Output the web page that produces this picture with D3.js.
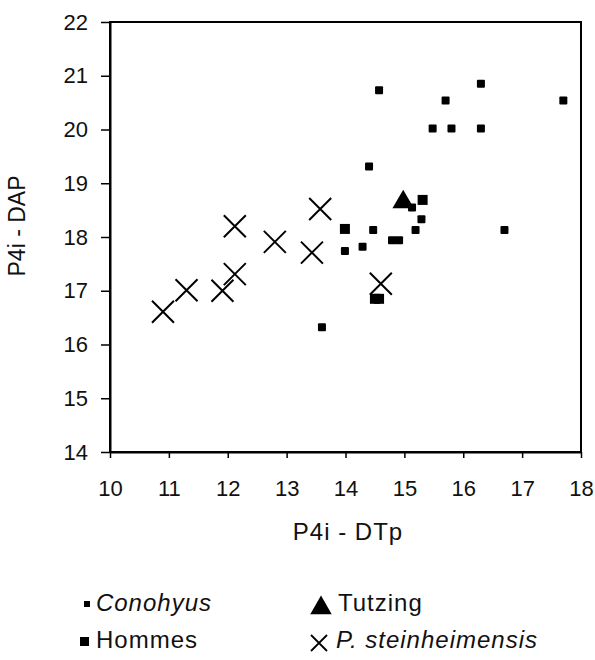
<!DOCTYPE html>
<html>
<head>
<meta charset="utf-8">
<script src="https://cdn.jsdelivr.net/npm/d3@7"></script>
<style>
  body { margin: 0; background: #fff; }
  text { font-family: "Liberation Sans", Arial, sans-serif; fill: #111; }
</style>
</head>
<body>
<div id="container"></div>
<script>
// P4i - DTp (x) against P4i - DAP (y), one array per group
const conohyusX = [14.57, 16.30, 15.70, 17.70, 15.48, 15.80, 16.30, 14.40, 15.13, 15.29, 14.47, 15.19, 16.70, 14.79, 14.91, 13.99, 14.29, 13.60];
const conohyusY = [20.73, 20.85, 20.54, 20.54, 20.02, 20.02, 20.02, 19.31, 18.55, 18.33, 18.13, 18.13, 18.13, 17.94, 17.94, 17.74, 17.82, 16.32];
const hommesX = [13.99, 15.31, 14.50, 14.57];
const hommesY = [18.15, 18.69, 16.85, 16.85];
const tutzingX = [14.98];
const tutzingY = [18.65];
const steinX = [10.90, 11.30, 11.91, 12.12, 12.12, 12.80, 13.43, 13.57, 14.60];
const steinY = [16.61, 17.01, 17.00, 17.31, 18.20, 17.91, 17.71, 18.52, 17.13];

const xTicks = [10, 11, 12, 13, 14, 15, 16, 17, 18];
const yTicks = [14, 15, 16, 17, 18, 19, 20, 21, 22];

const width = 595;
const height = 660;
const plotLeft = 110, plotRight = 581, plotTop = 22, plotBottom = 452;

const xScale = d3.scaleLinear().domain([10, 18]).range([plotLeft, plotRight]);
const yScale = d3.scaleLinear().domain([14, 22]).range([plotBottom, plotTop]);

const svg = d3.select("#container")
    .append("svg")
    .attr("width", width)
    .attr("height", height);

// frame round the plot
svg.append("rect")
    .attr("x", plotLeft)
    .attr("y", plotTop)
    .attr("width", plotRight - plotLeft)
    .attr("height", plotBottom - plotTop)
    .attr("fill", "none")
    .attr("stroke", "#000")
    .attr("stroke-width", 2);

// bottom axis
const xAxis = svg.append("g")
    .attr("transform", `translate(0,${plotBottom})`)
    .call(d3.axisBottom(xScale).tickValues(xTicks).tickSize(6).tickPadding(22).tickSizeOuter(0));
xAxis.select(".domain").attr("stroke-width", 2);
xAxis.selectAll(".tick line").attr("stroke-width", 1.5);
xAxis.selectAll("text").style("font-size", "22px").attr("fill", "#111");

// left axis
const yAxis = svg.append("g")
    .attr("transform", `translate(${plotLeft},0)`)
    .call(d3.axisLeft(yScale).tickValues(yTicks).tickSize(9).tickPadding(13).tickSizeOuter(0));
yAxis.select(".domain").attr("stroke-width", 2);
yAxis.selectAll(".tick line").attr("stroke-width", 1.5);
yAxis.selectAll("text").style("font-size", "22px").attr("fill", "#111");

// axis titles
svg.append("text")
    .attr("x", 348)
    .attr("y", 540)
    .attr("text-anchor", "middle")
    .style("font-size", "24px")
    .style("letter-spacing", "1px")
    .text("P4i - DTp");

svg.append("text")
    .attr("transform", "translate(25,226) rotate(-90)")
    .attr("text-anchor", "middle")
    .style("font-size", "23px")
    .text("P4i - DAP");

// Conohyus: small squares
svg.append("g").selectAll("rect")
    .data(d3.zip(conohyusX, conohyusY))
    .join("rect")
    .attr("x", d => xScale(d[0]) - 4)
    .attr("y", d => yScale(d[1]) - 4)
    .attr("width", 8)
    .attr("height", 8)
    .attr("rx", 1)
    .attr("fill", "#000");

// Hommes: larger squares
svg.append("g").selectAll("rect")
    .data(d3.zip(hommesX, hommesY))
    .join("rect")
    .attr("x", d => xScale(d[0]) - 5)
    .attr("y", d => yScale(d[1]) - 5)
    .attr("width", 10)
    .attr("height", 10)
    .attr("fill", "#000");

// Tutzing: triangle
svg.append("g").selectAll("path")
    .data(d3.zip(tutzingX, tutzingY))
    .join("path")
    .attr("transform", d => `translate(${xScale(d[0])},${yScale(d[1])})`)
    .attr("d", d3.symbol().type(d3.symbolTriangle).size(200))
    .attr("fill", "#000");

// P. steinheimensis: crosses
const cross = 11;
svg.append("g").selectAll("path")
    .data(d3.zip(steinX, steinY))
    .join("path")
    .attr("d", d => {
        const cx = xScale(d[0]), cy = yScale(d[1]);
        return `M${cx - cross},${cy - cross}L${cx + cross},${cy + cross}M${cx - cross},${cy + cross}L${cx + cross},${cy - cross}`;
    })
    .attr("stroke", "#000")
    .attr("stroke-width", 2)
    .attr("fill", "none");

// legend, two columns
const legend = svg.append("g");
legend.append("rect").attr("x", 84).attr("y", 601).attr("width", 6).attr("height", 6).attr("fill", "#000");
legend.append("text").attr("x", 212).attr("y", 611).attr("text-anchor", "end")
    .style("font-size", "24px").style("font-style", "italic").style("letter-spacing", "1px").text("Conohyus");
legend.append("rect").attr("x", 80).attr("y", 637).attr("width", 9).attr("height", 9).attr("fill", "#000");
legend.append("text").attr("x", 198).attr("y", 648).attr("text-anchor", "end")
    .style("font-size", "24px").style("letter-spacing", "1px").text("Hommes");

legend.append("path")
    .attr("transform", "translate(321,608)")
    .attr("d", d3.symbol().type(d3.symbolTriangle).size(200))
    .attr("fill", "#000");
legend.append("text").attr("x", 338).attr("y", 611)
    .style("font-size", "24px").style("letter-spacing", "1px").text("Tutzing");
legend.append("path")
    .attr("d", "M311,635L327,651M311,651L327,635")
    .attr("stroke", "#000")
    .attr("stroke-width", 1.8);
legend.append("text").attr("x", 336).attr("y", 648)
    .style("font-size", "24px").style("font-style", "italic").style("letter-spacing", "1px").text("P. steinheimensis");
</script>
</body>
</html>
